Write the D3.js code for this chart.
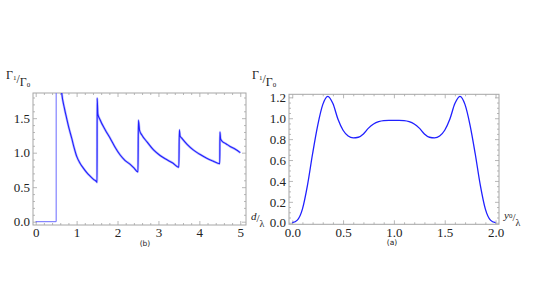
<!DOCTYPE html>
<html>
<head>
<meta charset="utf-8">
<script src="https://cdn.jsdelivr.net/npm/d3@7"></script>
<style>
  body { margin: 0; background: #fff; }
  svg { display: block; }
</style>
</head>
<body>
<script>
// panel (b): rate vs mirror separation d/lambda (noisy numerical curve)
var dFlat = [0, 0.5, 0.5], rateFlat = [0, 0, 3.0];
var dVals = [0.5, 0.502, 0.6, 0.635, 0.7, 0.76, 0.82, 0.88, 0.94, 1.0, 1.08, 1.16, 1.25, 1.33, 1.42, 1.49,
  1.5, 1.502, 1.52, 1.57, 1.7, 1.82, 1.94, 2.06, 2.18, 2.31, 2.4, 2.5,
  2.51, 2.54, 2.59, 2.73, 2.88, 3.04, 3.2, 3.35, 3.5,
  3.51, 3.53, 3.57, 3.7, 3.85, 4.0, 4.18, 4.33, 4.5,
  4.502, 4.52, 4.55, 4.65, 4.75, 4.88, 5.0];
var rateD = [3.2, 3.0, 2.12, 1.87, 1.65, 1.49, 1.34, 1.21, 1.07, 0.95, 0.85, 0.78, 0.71, 0.66, 0.61, 0.578,
  0.57, 1.79, 1.56, 1.48, 1.33, 1.21, 1.08, 0.97, 0.89, 0.83, 0.78, 0.72,
  1.47, 1.32, 1.26, 1.15, 1.04, 0.96, 0.90, 0.85, 0.79,
  1.33, 1.24, 1.21, 1.12, 1.04, 0.98, 0.92, 0.88, 0.84,
  1.30, 1.20, 1.17, 1.13, 1.09, 1.05, 1.0];

// panel (a): rate vs dipole position y0/lambda
var y0Vals = [0, 0.05, 0.1, 0.15, 0.2, 0.25, 0.3, 0.35, 0.4, 0.45, 0.5, 0.55, 0.6, 0.65, 0.7, 0.75, 0.8, 0.85, 0.9, 0.95, 1.0,
  1.05, 1.1, 1.15, 1.2, 1.25, 1.3, 1.35, 1.4, 1.45, 1.5, 1.55, 1.6, 1.65, 1.7, 1.75, 1.8, 1.85, 1.9, 1.95, 2.0];
var rateY = [0, 0.025, 0.13, 0.36, 0.66, 0.93, 1.13, 1.21, 1.14, 0.99, 0.885, 0.83, 0.812, 0.818, 0.85, 0.905, 0.945, 0.968, 0.978, 0.98, 0.98,
  0.98, 0.978, 0.968, 0.945, 0.905, 0.85, 0.818, 0.812, 0.83, 0.885, 0.99, 1.14, 1.21, 1.13, 0.93, 0.66, 0.36, 0.13, 0.025, 0];

var xTicksB = [0, 1, 2, 3, 4, 5], yTicksB = [0, 0.5, 1.0, 1.5];
var xTicksA = [0, 0.5, 1.0, 1.5, 2.0], yTicksA = [0, 0.2, 0.4, 0.6, 0.8, 1.0, 1.2];

var frameCol = "#a6a6a6", lineCol = "#2020ff", serif = "'Liberation Serif', 'DejaVu Serif', serif";

var svg = d3.select("body").append("svg")
  .attr("width", 534).attr("height", 300);

function minors(lo, hi, step, majors) {
  return d3.range(Math.ceil(lo / step - 1e-9) * step, hi + 1e-9, step)
    .map(function(v){ return +v.toFixed(4); })
    .filter(function(v){ return !majors.some(function(m){ return Math.abs(m - v) < 1e-6; }); });
}

function frame(g, x, y, xMaj, xMin, yMaj, yMin, fx, fy) {
  var x0 = x.range()[0], x1 = x.range()[1], y0 = y.range()[0], y1 = y.range()[1];
  var parts = [
    [d3.axisBottom(x).tickValues(xMaj).tickSize(-4).tickPadding(3).tickFormat(fx), "translate(0," + y0 + ")"],
    [d3.axisBottom(x).tickValues(xMin).tickSize(-2).tickFormat(""), "translate(0," + y0 + ")"],
    [d3.axisTop(x).tickValues(xMaj).tickSize(-4).tickFormat(""), "translate(0," + y1 + ")"],
    [d3.axisTop(x).tickValues(xMin).tickSize(-2).tickFormat(""), "translate(0," + y1 + ")"],
    [d3.axisLeft(y).tickValues(yMaj).tickSize(-4).tickPadding(3).tickFormat(fy), "translate(" + x0 + ",0)"],
    [d3.axisLeft(y).tickValues(yMin).tickSize(-2).tickFormat(""), "translate(" + x0 + ",0)"],
    [d3.axisRight(y).tickValues(yMaj).tickSize(-4).tickFormat(""), "translate(" + x1 + ",0)"],
    [d3.axisRight(y).tickValues(yMin).tickSize(-2).tickFormat(""), "translate(" + x1 + ",0)"]
  ];
  parts.forEach(function(p){
    var a = g.append("g").attr("transform", p[1]).call(p[0]);
    a.attr("font-family", null);
    a.select(".domain").remove();
    a.selectAll("line").attr("stroke", frameCol).attr("stroke-width", 0.8);
    a.selectAll("text").style("font-family", serif).attr("font-size", 13).attr("fill", "#222");
  });
  g.append("rect")
    .attr("x", x0).attr("y", y1).attr("width", x1 - x0).attr("height", y0 - y1)
    .attr("fill", "none").attr("stroke", frameCol).attr("stroke-width", 1);
}

function fracLabel(g, px, py) {
  // Γ1 / Γ0 written Mathematica-style
  var t = g.append("text").style("font-family", serif).attr("fill", "#222");
  t.append("tspan").attr("x", px).attr("y", py).attr("font-size", 12).text("Γ");
  t.append("tspan").attr("font-size", 7).attr("dy", 1).text("1");
  t.append("tspan").attr("font-size", 12).attr("dy", 3).text("/");
  t.append("tspan").attr("font-size", 12).attr("dy", 3).text("Γ");
  t.append("tspan").attr("font-size", 7).attr("dy", 1).text("0");
}

// ---- panel (b) ----
var gb = svg.append("g");
var xb = d3.scaleLinear().domain([-0.066, 5.14]).range([33, 246]);
var yb = d3.scaleLinear().domain([-0.048, 1.865]).range([225, 93]);
frame(gb, xb, yb, xTicksB, minors(-0.066, 5.14, 0.2, xTicksB), yTicksB, minors(-0.048, 1.865, 0.1, yTicksB),
  d3.format("d"), d3.format(".1f"));

gb.append("clipPath").attr("id", "clipb").append("rect")
  .attr("x", 33).attr("y", 93).attr("width", 213).attr("height", 132);

var lineFlat = d3.line().x(function(d){ return xb(d[0]); }).y(function(d){ return yb(d[1]); });
var lineB = d3.line().curve(d3.curveMonotoneX)
  .x(function(d){ return xb(d[0]); }).y(function(d){ return yb(d[1]); });
var ptsB = dVals.map(function(d, i){ return [d, rateD[i]]; });
// flat part at zero and the jump at d = 0.5 look thin and light
gb.append("path").datum(dFlat.map(function(d, i){ return [d, rateFlat[i]]; }))
  .attr("clip-path", "url(#clipb)")
  .attr("d", lineFlat).attr("fill", "none").attr("stroke", "#6a6aff").attr("stroke-width", 1);
// noisy band
gb.append("path").datum(ptsB)
  .attr("clip-path", "url(#clipb)")
  .attr("d", lineB).attr("fill", "none").attr("stroke", "#4040ff").attr("stroke-width", 2.4)
  .attr("stroke-opacity", 0.35).attr("stroke-linejoin", "round");
gb.append("path").datum(ptsB)
  .attr("clip-path", "url(#clipb)")
  .attr("d", lineB).attr("fill", "none").attr("stroke", lineCol).attr("stroke-width", 1.1)
  .attr("stroke-linejoin", "round");

fracLabel(svg, 6, 79);
var dl = svg.append("text").style("font-family", serif).attr("fill", "#222");
dl.append("tspan").attr("x", 251).attr("y", 220).attr("font-size", 11).attr("font-style", "italic").text("d");
dl.append("tspan").attr("font-size", 11).attr("dy", 2).text("/");
dl.append("tspan").attr("font-size", 10).attr("dy", 5).text("λ");
svg.append("text").attr("x", 145).attr("y", 246).attr("text-anchor", "middle")
  .style("font-family", "'DejaVu Sans', sans-serif").attr("font-size", 7.5).attr("fill", "#222").text("(b)");

// ---- panel (a) ----
var ga = svg.append("g");
var xa = d3.scaleLinear().domain([-0.032, 2.034]).range([289, 499]);
var ya = d3.scaleLinear().domain([-0.015, 1.229]).range([224.3, 94.3]);
frame(ga, xa, ya, xTicksA, minors(-0.032, 2.034, 0.1, xTicksA), yTicksA, minors(-0.015, 1.229, 0.05, yTicksA),
  d3.format(".1f"), d3.format(".1f"));

var lineA = d3.line().curve(d3.curveMonotoneX)
  .x(function(d){ return xa(d[0]); }).y(function(d){ return ya(d[1]); });
ga.append("path").datum(y0Vals.map(function(d, i){ return [d, rateY[i]]; }))
  .attr("d", lineA).attr("fill", "none").attr("stroke", lineCol).attr("stroke-width", 1.3);

fracLabel(svg, 252, 79);
var yl = svg.append("text").style("font-family", serif).attr("fill", "#222");
yl.append("tspan").attr("x", 504).attr("y", 219).attr("font-size", 11).attr("font-style", "italic").text("y");
yl.append("tspan").attr("font-size", 7).attr("dy", -1).text("0");
yl.append("tspan").attr("font-size", 11).attr("dy", 3).text("/");
yl.append("tspan").attr("font-size", 10).attr("dy", 5).text("λ");
svg.append("text").attr("x", 392).attr("y", 245).attr("text-anchor", "middle")
  .style("font-family", "'DejaVu Sans', sans-serif").attr("font-size", 7.5).attr("fill", "#222").text("(a)");
</script>
</body>
</html>
